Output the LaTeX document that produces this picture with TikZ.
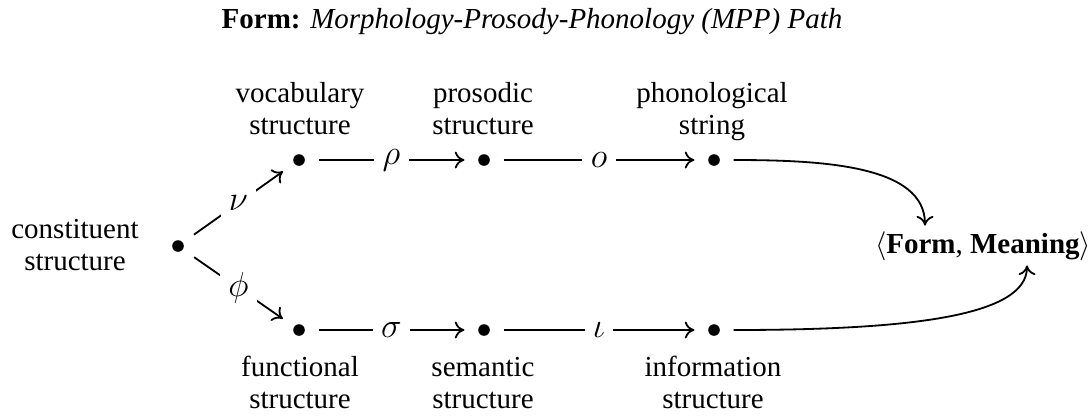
\documentclass[tikz,border=0pt]{standalone}
\usepackage{fontspec}
\setmainfont{Liberation Serif}
\usetikzlibrary{arrows.meta,calc}
\begin{document}
\begin{tikzpicture}[x=0.4138pt,y=-0.4138pt,
  font=\fontsize{12}{13.5}\selectfont,
  dot/.style={circle,fill,inner sep=0pt,minimum size=4.8pt},
  lbl/.style={align=center,inner sep=0pt},
  tip/.style={-{To[length=4pt,width=7pt]}},
  arr/.style={tip,line width=0.75pt,shorten <=5.5pt,shorten >=5.5pt},
  carr/.style={tip,line width=0.75pt,shorten <=5.5pt},
  elab/.style={fill=white,inner sep=3.5pt,font=\fontsize{14}{16}\selectfont}
]
\useasboundingbox (0,0) rectangle (1091,415);
\node (title) at (532,22) {\textbf{Form:} \textit{Morphology-Prosody-Phonology (MPP) Path}};
% nodes
\node[dot] (c) at (178,246) {};
\node[lbl] (ct) at (75,248) {constituent\strut\\structure\strut};
\node[dot] (v) at (299,160) {};
\node[dot] (p) at (484,160) {};
\node[dot] (s) at (714,160) {};
\node[dot] (f) at (299,330) {};
\node[dot] (m) at (484,330) {};
\node[dot] (i) at (714,330) {};
\node[lbl] (vt) at (300,112) {vocabulary\strut\\structure\strut};
\node[lbl] (pt) at (483,112) {prosodic\strut\\structure\strut};
\node[lbl] (st) at (712,112) {phonological\strut\\string\strut};
\node[lbl] (ft) at (300,386) {functional\strut\\structure\strut};
\node[lbl] (mt) at (483,386) {semantic\strut\\structure\strut};
\node[lbl] (it) at (713,386) {information\strut\\structure\strut};
\node[inner sep=1pt] (fm) at (983,246) {$\langle$\textbf{Form}, \textbf{Meaning}$\rangle$};
\coordinate (fmt) at ($(fm.north)+(-58,-3)$);
\coordinate (fmb) at ($(fm.south)+(44,2)$);
% edges
\draw[arr] (c) -- node[elab]{$\nu$} (v);
\draw[arr] (c) -- node[elab]{$\phi$} (f);
\draw[arr] (v) -- node[elab]{$\rho$} (p);
\draw[arr] (p) -- node[elab]{$o$} (s);
\draw[arr] (f) -- node[elab]{$\sigma$} (m);
\draw[arr] (m) -- node[elab]{$\iota$} (i);
\draw[carr] (s) .. controls +(110,0) and +(0,-60) .. (fmt);
\draw[carr] (i) .. controls +(200,0) and +(0,50) .. (fmb);
\end{tikzpicture}
\end{document}
